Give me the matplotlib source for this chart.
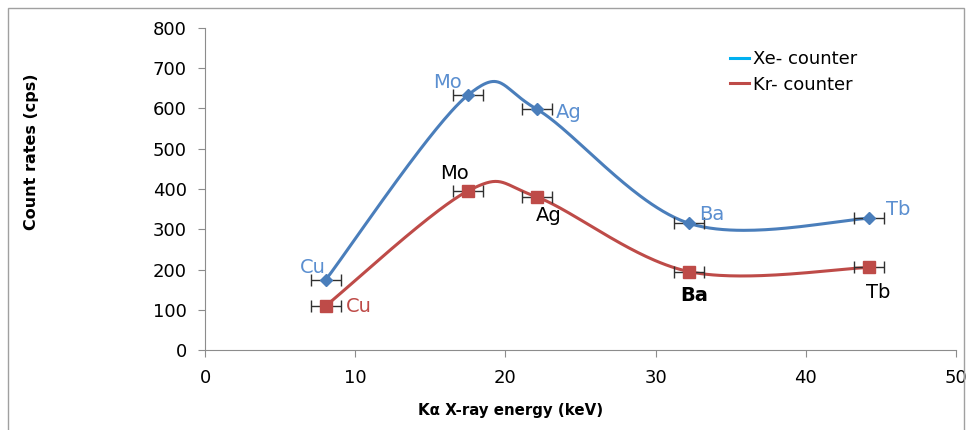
import numpy as np
import matplotlib
matplotlib.use('Agg')
import matplotlib.pyplot as plt
from matplotlib.patches import Rectangle

# Data
elements = ['Cu', 'Mo', 'Ag', 'Ba', 'Tb']
energy_kev = [8.05, 17.5, 22.1, 32.2, 44.2]
energy_err = [1.0, 1.0, 1.0, 1.0, 1.0]
xe_counts = [175, 633, 598, 315, 327]
kr_counts = [110, 395, 380, 195, 205]

BLUE = '#4a7ebb'
RED = '#be4b48'
LBL_BLUE = '#5b8fd0'


def smooth_curve(xs, ys, n=60):
    """Excel-like smoothed line (Catmull-Rom as cubic Bezier)"""
    pts = np.column_stack([xs, ys]).astype(float)
    ext = np.vstack([pts[0], pts, pts[-1]])
    out = []
    t = np.linspace(0, 1, n)[:, None]
    for i in range(1, len(ext) - 2):
        p0, p3 = ext[i], ext[i + 1]
        p1 = p0 + (ext[i + 1] - ext[i - 1]) / 6.0
        p2 = p3 - (ext[i + 2] - ext[i]) / 6.0
        seg = ((1 - t) ** 3) * p0 + 3 * ((1 - t) ** 2) * t * p1 \
            + 3 * (1 - t) * t ** 2 * p2 + t ** 3 * p3
        out.append(seg)
    c = np.vstack(out)
    return c[:, 0], c[:, 1]


plt.rcParams['font.family'] = ['DejaVu Sans']

fig = plt.figure(figsize=(9.67, 4.3), dpi=100)
fig.patches.append(Rectangle((8 / 967, -0.01), 956 / 967, 1 - 8 / 430 + 0.01,
                             transform=fig.transFigure, fill=False,
                             edgecolor='#a0a0a0', linewidth=1))
ax = fig.add_axes([0.212, 0.186, 0.7766, 0.749])

sx, sy = smooth_curve(energy_kev, xe_counts)
ax.plot(sx, sy, color=BLUE, lw=2.2, zorder=2)
sx, sy = smooth_curve(energy_kev, kr_counts)
ax.plot(sx, sy, color=RED, lw=2.2, zorder=2)

ax.errorbar(energy_kev, xe_counts, xerr=energy_err, fmt='none', ecolor='#303030',
            elinewidth=1, capsize=4, capthick=1, zorder=3)
ax.errorbar(energy_kev, kr_counts, xerr=energy_err, fmt='none', ecolor='#303030',
            elinewidth=1, capsize=4, capthick=1, zorder=3)
ax.plot(energy_kev, xe_counts, 'D', color=BLUE, ms=6.5, zorder=4)
ax.plot(energy_kev, kr_counts, 's', color=RED, ms=9, zorder=4)

# legend-only handles
ax.plot([], [], color='#00b0f0', lw=2.2, label='Xe- counter')
ax.plot([], [], color=RED, lw=2.2, label='Kr- counter')
handles, labels = ax.get_legend_handles_labels()
ax.legend(handles, labels, loc='upper left', bbox_to_anchor=(0.699, 0.93),
          frameon=False, fontsize=13, handlelength=1.05, handletextpad=0.2,
          labelspacing=0.4, borderpad=0, borderaxespad=0)

# point labels (offsets in pixels)
xe_offsets = [(-13, 12), (-20, 13), (32, -3), (23, 9), (29, 9)]
kr_offsets = [(33, -1), (-13, 17), (12, -18), (6, -24), (9, -25)]
kr_colors = [RED, 'black', 'black', 'black', 'black']
kr_weights = ['normal', 'normal', 'normal', 'bold', 'normal']
for i, el in enumerate(elements):
    ax.annotate(el, (energy_kev[i], xe_counts[i]), xytext=xe_offsets[i],
                textcoords='offset pixels', ha='center', va='center',
                color=LBL_BLUE, fontsize=14)
    ax.annotate(el, (energy_kev[i], kr_counts[i]), xytext=kr_offsets[i],
                textcoords='offset pixels', ha='center', va='center',
                color=kr_colors[i], fontsize=14, fontweight=kr_weights[i])

ax.set_xlim(0, 50)
ax.set_ylim(0, 800)
ax.set_xticks(range(0, 51, 10))
ax.set_yticks(range(0, 801, 100))
for s in ['top', 'right']:
    ax.spines[s].set_visible(False)
for s in ['left', 'bottom']:
    ax.spines[s].set_color('#8c8c8c')
ax.tick_params(colors='#8c8c8c', labelcolor='black', labelsize=13,
               direction='out', length=5)
ax.tick_params(axis='y', pad=8)
ax.tick_params(axis='x', pad=9)

fig.text(0.033, 1 - 152 / 430, 'Count rates (cps)', rotation=90,
         ha='center', va='center', fontsize=11.5, fontweight='bold')
fig.text(511 / 967, 1 - 410 / 430, 'Kα X-ray energy (keV)',
         ha='center', va='center', fontsize=10.8, fontweight='bold')

fig.savefig('out.png', dpi=100)
